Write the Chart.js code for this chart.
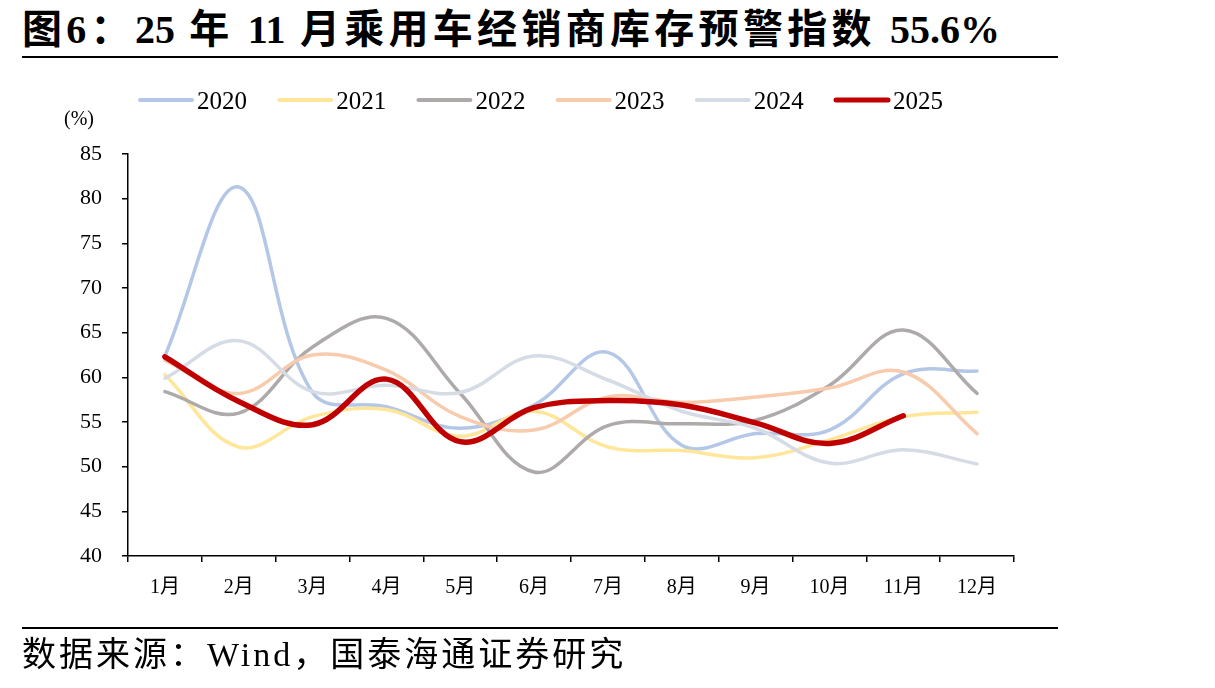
<!DOCTYPE html>
<html>
<head>
<meta charset="utf-8">
<script src="https://cdn.jsdelivr.net/npm/chart.js@4.4.1/dist/chart.umd.min.js"></script>
<style>
  html, body { margin: 0; padding: 0; background: #fff; }
  body { width: 1215px; height: 688px; position: relative; overflow: hidden; }
  #title { position: absolute; left: 22px; top: 8px; font-family: "Liberation Serif", "Noto Sans CJK SC", serif; font-weight: bold; font-size: 40px; line-height: 44px; letter-spacing: 4.3px; color: #000; white-space: nowrap; }
  #title .num { letter-spacing: 0px; }
  #rule1 { position: absolute; left: 22px; top: 56px; width: 1036px; height: 2px; background: #000; }
  #rule2 { position: absolute; left: 22px; top: 627px; width: 1036px; height: 2px; background: #000; }
  #source { position: absolute; left: 22px; top: 635px; font-family: "Liberation Serif", "Noto Sans CJK SC", serif; font-size: 34px; line-height: 40px; letter-spacing: 3px; color: #000; white-space: nowrap; }
  #unit { position: absolute; left: 64px; top: 107px; font-family: "Liberation Serif", serif; font-size: 20px; color: #000; }
  canvas { position: absolute; left: 0; top: 0; }
</style>
</head>
<body>
<div id="title">图6：<span class="num">25</span> 年 <span class="num">11</span> 月乘用车经销商库存预警指数 <span class="num">55.6%</span></div>
<div id="rule1"></div>
<canvas id="c" width="1215" height="688"></canvas>
<div id="unit">(%)</div>
<div id="rule2"></div>
<div id="source">数据来源：Wind，国泰海通证券研究</div>
<script>
const months = ["1月","2月","3月","4月","5月","6月","7月","8月","9月","10月","11月","12月"];
const seriesNames = ["2020","2021","2022","2023","2024","2025"];
const y2020 = [62.4, 81.3, 58.3, 56.7, 54.3, 56.9, 62.8, 52.4, 53.7, 54.1, 60.4, 60.7];
const y2021 = [60.3, 52.2, 55.6, 56.4, 53.4, 56.2, 52.2, 51.8, 51.0, 53.0, 55.6, 56.1];
const y2022 = [58.4, 56.0, 63.4, 66.6, 58.2, 49.4, 54.6, 54.8, 55.2, 59.1, 65.3, 58.2];
const y2023 = [61.9, 58.2, 62.5, 60.8, 55.6, 54.1, 57.8, 57.2, 57.8, 58.8, 60.6, 53.7];
const y2024 = [59.9, 64.1, 58.4, 59.1, 58.3, 62.4, 59.7, 56.2, 54.3, 50.4, 51.9, 50.3];
const y2025 = [62.3, 57.3, 54.7, 59.8, 52.8, 56.6, 57.4, 56.9, 54.9, 52.6, 55.7];
const yTicks = [40, 45, 50, 55, 60, 65, 70, 75, 80, 85];

const colors = ["#B4C7E7", "#FFE699", "#AEAAAA", "#F8CBAD", "#D6DCE5", "#C00000"];
const widths = [3.5, 3.5, 3.5, 3.5, 3.5, 5.5];
const allData = [y2020, y2021, y2022, y2023, y2024, y2025];

const fontFam = '"Liberation Serif", "Noto Sans CJK SC", serif';

const legendPlugin = {
  id: 'customLegend',
  afterDraw(chart) {
    const ctx = chart.ctx;
    ctx.save();
    ctx.font = '25px ' + fontFam;
    ctx.textBaseline = 'middle';
    ctx.textAlign = 'left';
    const y = 100;
    const x0 = 140, step = 139.2, len = 52;
    chart.data.datasets.forEach((ds, i) => {
      const x = x0 + i * step;
      ctx.strokeStyle = ds.borderColor;
      ctx.lineWidth = i === 5 ? 5 : 4;
      ctx.lineCap = 'round';
      ctx.beginPath();
      ctx.moveTo(x, y);
      ctx.lineTo(x + len, y);
      ctx.stroke();
      ctx.fillStyle = '#000';
      ctx.fillText(ds.label, x + len + 5, y + 2);
    });
    ctx.restore();
  }
};

new Chart(document.getElementById('c'), {
  type: 'line',
  data: {
    labels: months,
    datasets: seriesNames.map((n, i) => ({
      label: n,
      data: allData[i],
      borderColor: colors[i],
      backgroundColor: colors[i],
      borderWidth: widths[i],
      pointRadius: 0,
      pointHoverRadius: 0,
      tension: 0.38,
      fill: false,
      borderCapStyle: 'round',
      order: 6 - i
    }))
  },
  options: {
    responsive: false,
    animation: false,
    devicePixelRatio: 1,
    layout: { padding: { left: 68, right: 201, top: 154, bottom: 82 } },
    plugins: { legend: { display: false }, tooltip: { enabled: false } },
    scales: {
      x: {
        type: 'category',
        offset: true,
        grid: { offset: true, drawOnChartArea: false, drawTicks: true, tickLength: 6, color: '#000', lineWidth: 1.5 },
        border: { color: '#000', width: 1.5 },
        ticks: { color: '#000', font: { size: 20, family: fontFam }, padding: 14, maxRotation: 0, autoSkip: false },
        afterFit(scale) { scale.height = 50; }
      },
      y: {
        min: 40, max: 85,
        afterBuildTicks(scale) { scale.ticks = yTicks.map(v => ({ value: v })); },
        grid: { drawOnChartArea: false, drawTicks: true, tickLength: 6, color: '#000', lineWidth: 1.5 },
        border: { color: '#000', width: 1.5 },
        ticks: { color: '#000', font: { size: 22, family: fontFam }, padding: 20 },
        afterFit(scale) { scale.width = 60; }
      }
    }
  },
  plugins: [legendPlugin]
});
</script>
</body>
</html>
